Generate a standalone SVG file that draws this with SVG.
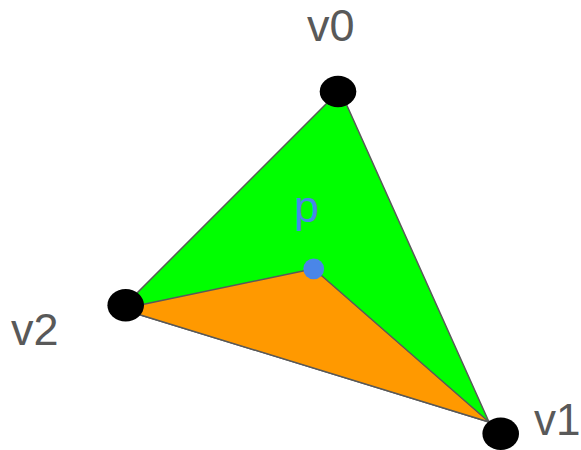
<svg xmlns="http://www.w3.org/2000/svg" width="581" height="450" viewBox="0 0 581 450">
<style>
.lbl{font-family:"Liberation Sans",Arial,sans-serif;font-size:45px;fill:#595959}
.edge{stroke:#595959;stroke-width:1.5;stroke-linejoin:round}
.vtx{fill:#000000}
</style>
<rect width="581" height="450" fill="#ffffff"/>
<g id="faces">
<polygon id="green-face" class="edge" points="340,90 489,422 121,309" fill="#00ff00"/>
<polygon id="orange-face" class="edge" points="121,309 313.7,268.8 489,422" fill="#ff9900"/>
</g>
<g id="v0"><ellipse class="vtx" cx="338" cy="91.5" rx="18.3" ry="15.7"/><text class="lbl" x="307" y="41" style="font-size:45px">v0</text></g>
<g id="v1"><ellipse class="vtx" cx="500.7" cy="433.7" rx="18.3" ry="16.3"/><text class="lbl" x="534" y="435" style="font-size:44px">v1</text></g>
<g id="v2"><ellipse class="vtx" cx="125.7" cy="305.3" rx="18.3" ry="16.3"/><text class="lbl" x="11" y="345">v2</text></g>
<g id="p"><circle cx="313.7" cy="268.8" r="10.4" fill="#4a86e8"/><text class="lbl" x="294" y="222" style="fill:#4a86e8">p</text></g>
</svg>
